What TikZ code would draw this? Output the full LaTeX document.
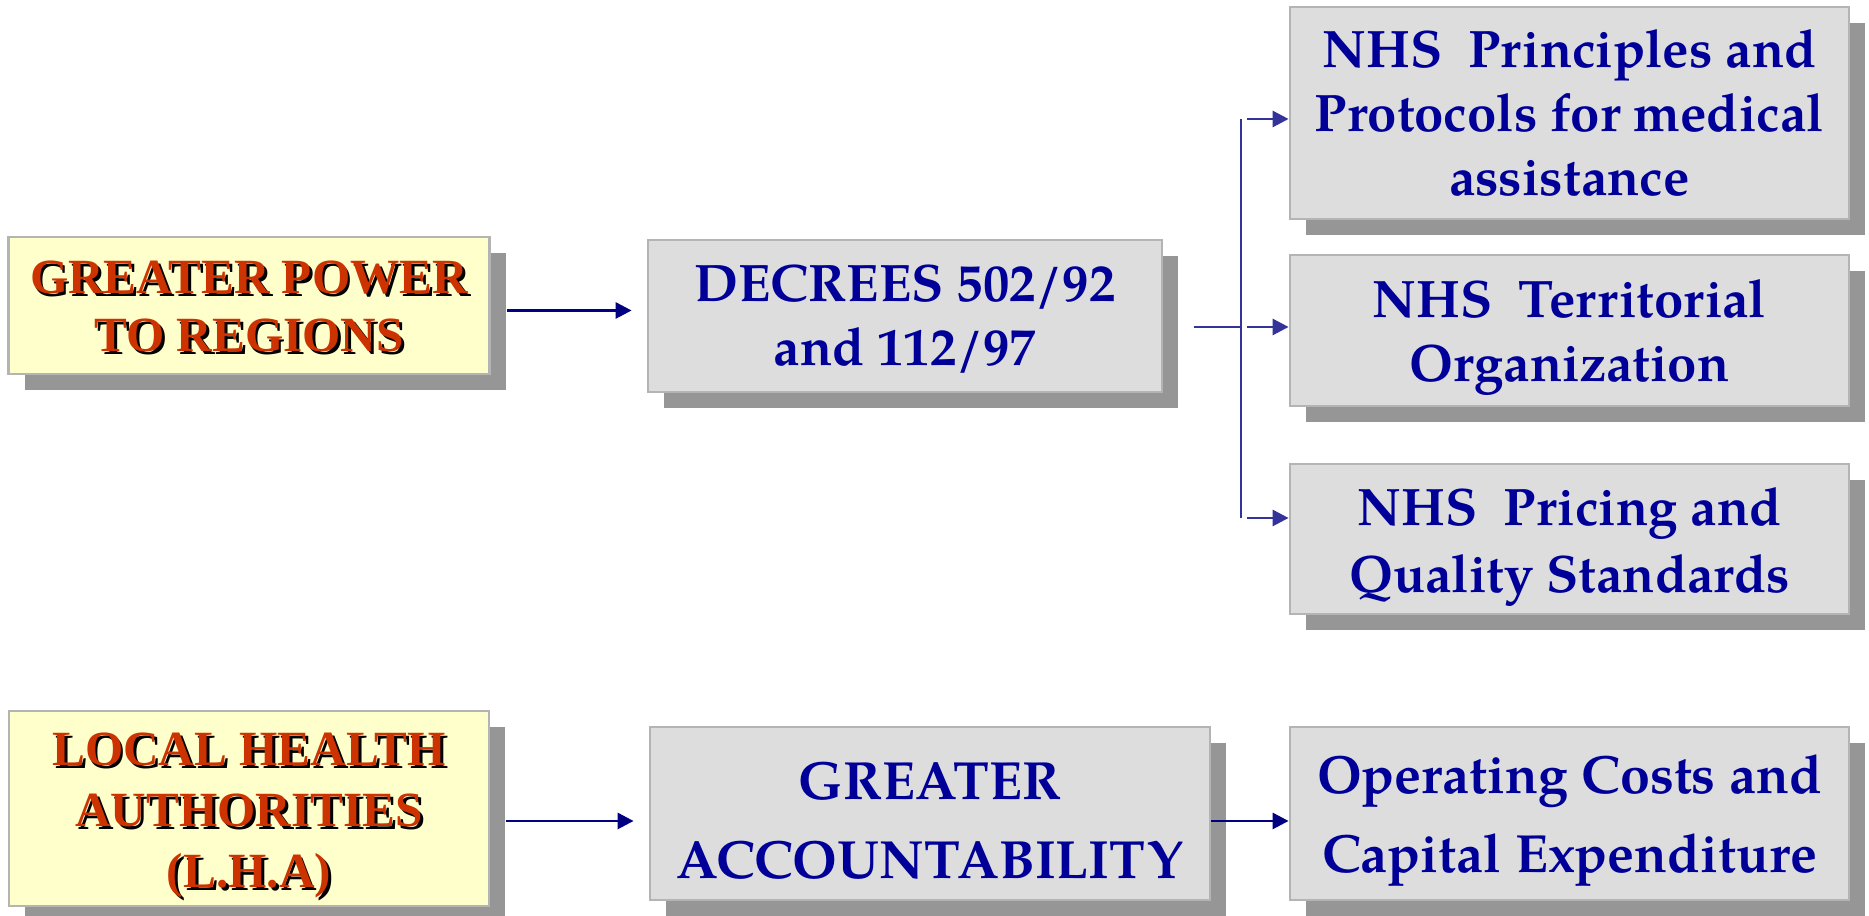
\documentclass[tikz,border=0pt]{standalone}
\usepackage{fontspec}
\setmainfont{TeX Gyre Pagella}
\newfontfamily\timesbold{Liberation Serif}[BoldFont={Liberation Serif Bold}]
\usepackage{xcolor}
\usetikzlibrary{arrows.meta, shadows, positioning, calc}

\definecolor{boxgray}{HTML}{DDDDDD}
\definecolor{boxyellow}{HTML}{FFFFCC}
\definecolor{rimgray}{HTML}{B4B4B4}
\definecolor{shadegray}{HTML}{969696}
\definecolor{txtred}{HTML}{CC3300}
\definecolor{txtblue}{HTML}{000099}
\definecolor{linknavy}{HTML}{000080}
\definecolor{branchblue}{HTML}{333399}

\newcommand{\redshade}[1]{\rlap{\hspace{0.8pt}\raisebox{-0.8pt}{\color{black}#1}}#1}

\tikzset{
    panel/.style={draw=rimgray, line width=0.8pt, inner sep=0pt,
        general shadow={fill=shadegray, shadow xshift=0.16cm, shadow yshift=-0.16cm}},
    greypanel/.style={panel, fill=boxgray},
    yellowpanel/.style={panel, fill=boxyellow},
    bluetext/.style={align=center, inner sep=0pt, text=txtblue, font=\bfseries\fontsize{15}{18.2}\selectfont, yshift=-0.7mm},
    redtext/.style={align=center, inner sep=0pt, text=txtred, font=\timesbold\bfseries\fontsize{14}{16.5}\selectfont, yshift=-0.25mm},
    link/.style={draw=linknavy, line width=0.8pt, -{Triangle[length=1.6mm, width=1.6mm]}},
    branch/.style={draw=branchblue, line width=0.8pt}
}

\begin{document}
\begin{tikzpicture}
    \useasboundingbox (0, 0) rectangle (18.69, 9.16);
    \node[yellowpanel, minimum width=4.81cm, minimum height=1.37cm,
        label={[redtext]center:{\redshade{GREATER POWER}\\\redshade{TO REGIONS}}}] (power) at (2.49, 6.105) {};
    \node[greypanel, minimum width=5.14cm, minimum height=1.52cm,
        label={[bluetext, yshift=0.35mm]center:{DECREES 502/92\\and 112/97}}] (decrees) at (9.05, 6.00) {};
    \node[greypanel, minimum width=5.59cm, minimum height=2.12cm,
        label={[bluetext, yshift=0.7mm]center:{NHS\ \ Principles and\\Protocols for medical\\assistance}}] (principles) at (15.695, 8.03) {};
    \node[greypanel, minimum width=5.59cm, minimum height=1.51cm,
        label={[bluetext]center:{NHS\ \ Territorial\\Organization}}] (territorial) at (15.695, 5.855) {};
    \node[greypanel, minimum width=5.59cm, minimum height=1.50cm,
        label={[bluetext, yshift=-0.1mm, font=\bfseries\fontsize{15}{19}\selectfont]center:{NHS\ \ Pricing and\\Quality Standards}}] (pricing) at (15.695, 3.77) {};
    \node[yellowpanel, minimum width=4.80cm, minimum height=1.95cm,
        label={[redtext, yshift=-0.6mm, font=\timesbold\bfseries\fontsize{14}{17.3}\selectfont]center:{\redshade{LOCAL HEALTH}\\\redshade{AUTHORITIES}\\\redshade{(L.H.A)}}}] (lha) at (2.49, 1.075) {};
    \node[greypanel, minimum width=5.60cm, minimum height=1.73cm,
        label={[bluetext, font=\bfseries\fontsize{15.3}{22.5}\selectfont]center:{GREATER\\ACCOUNTABILITY}}] (account) at (9.30, 1.025) {};
    \node[greypanel, minimum width=5.59cm, minimum height=1.73cm,
        label={[bluetext, font=\bfseries\fontsize{15.3}{22.5}\selectfont]center:{Operating Costs and\\Capital Expenditure}}] (costs) at (15.695, 1.025) {};

    \coordinate (b1) at (12.41, 7.97);
    \coordinate (b2) at (12.41, 5.89);
    \coordinate (b3) at (12.41, 3.98);

    \draw[link, shorten <=1.6mm, shorten >=1.5mm]
        ([yshift=-0.5mm]power.east) -- ([yshift=-0.5mm]power.east -| decrees.west);
    \draw[branch] ([xshift=3.1mm]decrees.east |- b2) -- (b2);
    \draw[branch] (b1) -- (b3);
    \foreach \b/\t in {b1/principles, b2/territorial, b3/pricing}
        \draw[branch, -{Triangle[length=1.6mm, width=1.6mm]}] ([xshift=0.6mm]\b) -- (\b -| \t.west);
    \draw[link, shorten <=1.6mm, shorten >=1.5mm]
        ([yshift=-1.25mm]lha.east) -- ([yshift=-1.25mm]lha.east -| account.west);
    \draw[link] ([yshift=-0.75mm]account.east) -- ([yshift=-0.75mm]account.east -| costs.west);
\end{tikzpicture}
\end{document}
